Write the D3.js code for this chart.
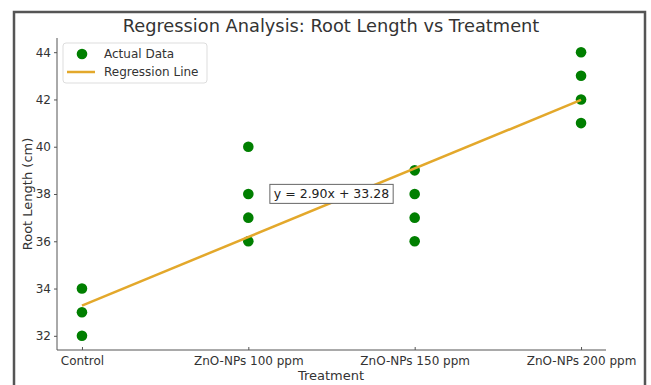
<!DOCTYPE html>
<html><head><meta charset="utf-8">
<script src="https://cdn.jsdelivr.net/npm/d3@7"></script>
<style>body{margin:0;background:#fff}svg{display:block;font-family:"DejaVu Sans",sans-serif}</style>
</head><body>
<svg id="c" width="651" height="385"></svg>
<script>
const categories = ["Control","ZnO-NPs 100 ppm","ZnO-NPs 150 ppm","ZnO-NPs 200 ppm"];
const groupIndex = [0,0,0,1,1,1,1,2,2,2,2,3,3,3,3];
const rootLength = [32,33,34,36,37,38,40,36,37,38,39,41,42,43,44];
const slope = 2.90, intercept = 33.28;
const yTicks = [32,34,36,38,40,42,44];

const svg = d3.select("#c");
const L = 57, R = 606, T = 38, B = 350;
const x = d3.scaleLinear().domain([-0.15,3.15]).range([L,R]);
const y = d3.scaleLinear().domain([31.4,44.6]).range([B,T]);

// outer frame
svg.append("path").attr("d",`M14,385 V12 H645 V385`).attr("fill","none").attr("stroke","#555").attr("stroke-width",2.5);

// title
svg.append("text").attr("x",331).attr("y",32).attr("text-anchor","middle").attr("font-size",17.8).attr("fill","#333").text("Regression Analysis: Root Length vs Treatment");

// axes
const yAx = svg.append("g").attr("transform",`translate(${L},0)`).call(d3.axisLeft(y).tickValues(yTicks).tickSize(3).tickPadding(3).tickFormat(d3.format("d")));
yAx.select(".domain").attr("stroke","#555").attr("d",`M0,${B}V${T}`);
yAx.selectAll(".tick line").attr("stroke","#555");
yAx.selectAll("text").attr("font-size",12).attr("fill","#333").attr("font-family","DejaVu Sans");

const xAx = svg.append("g").attr("transform",`translate(0,${B})`).call(d3.axisBottom(x).tickValues([0,1,2,3]).tickSizeInner(-3).tickSizeOuter(0).tickPadding(6).tickFormat(i=>categories[i]));
xAx.select(".domain").attr("stroke","#555").attr("d",`M${L},0H${R}`);
xAx.selectAll(".tick line").attr("stroke","#555");
xAx.selectAll("text").attr("font-size",12).attr("fill","#333").attr("font-family","DejaVu Sans");

// axis labels
svg.append("text").attr("x",331).attr("y",380).attr("text-anchor","middle").attr("font-size",13).attr("fill","#333").text("Treatment");
svg.append("text").attr("transform",`translate(32,${(T+B)/2}) rotate(-90)`).attr("text-anchor","middle").attr("font-size",13).attr("fill","#333").text("Root Length (cm)");

// points
svg.append("g").selectAll("circle").data(rootLength).join("circle")
  .attr("cx",(d,i)=>x(groupIndex[i])).attr("cy",d=>y(d)).attr("r",5.3).attr("fill","#007f00");

// regression line
svg.append("line").attr("x1",x(0)).attr("y1",y(intercept)).attr("x2",x(3)).attr("y2",y(intercept+slope*3))
  .attr("stroke","#e3a82b").attr("stroke-width",2.5);

// annotation
const ann = svg.append("g");
const at = ann.append("text").attr("x",x(1.5)).attr("y",y(38)).attr("dy","0.35em").attr("text-anchor","middle").attr("font-size",12.5).attr("fill","#222").text(`y = ${slope.toFixed(2)}x + ${intercept.toFixed(2)}`);
const bb = at.node().getBBox();
ann.insert("rect","text").attr("x",bb.x-4).attr("y",bb.y-2).attr("width",bb.width+8).attr("height",bb.height+4).attr("fill","#fff").attr("stroke","#666").attr("stroke-width",1);

// legend
const lg = svg.append("g");
lg.append("rect").attr("x",63).attr("y",43).attr("width",144).attr("height",40).attr("rx",3).attr("fill","#fff").attr("stroke","#ddd");
lg.append("circle").attr("cx",82).attr("cy",54).attr("r",5.3).attr("fill","#007f00");
lg.append("line").attr("x1",67).attr("x2",95).attr("y1",72).attr("y2",72).attr("stroke","#e3a82b").attr("stroke-width",2.5);
lg.append("text").attr("x",104).attr("y",54).attr("dy","0.35em").attr("font-size",12).attr("fill","#333").text("Actual Data");
lg.append("text").attr("x",104).attr("y",72).attr("dy","0.35em").attr("font-size",12).attr("fill","#333").text("Regression Line");
</script>
</body></html>
